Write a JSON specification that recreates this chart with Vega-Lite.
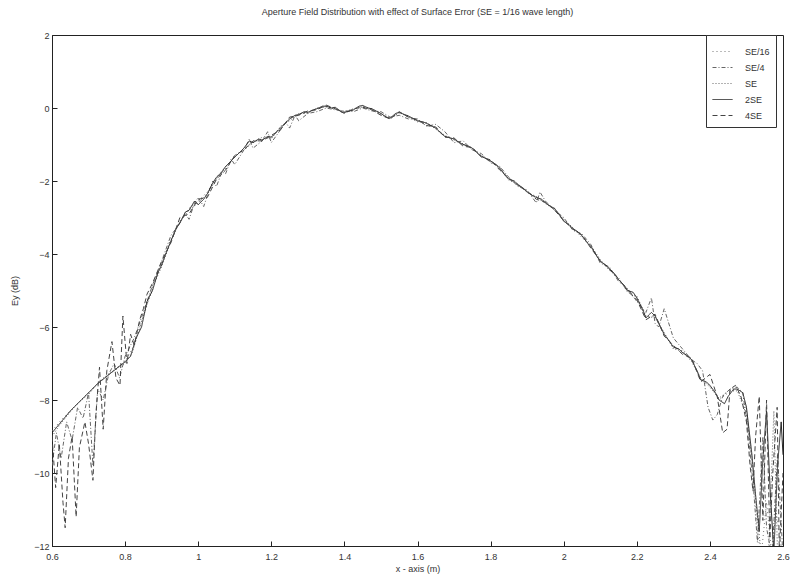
{
"$schema":"https://vega.github.io/schema/vega-lite/v6.json",
"width":731,"height":511,
"autosize":{"type":"none"},
"padding":{"left":52,"top":35,"right":7,"bottom":34},
"background":"white",
"title":{"text":"Aperture Field Distribution with effect of Surface Error (SE = 1/16 wave length)","fontSize":9,"font":"Liberation Sans","fontWeight":"normal","color":"#333","offset":14},
"data":{"values":[
{"s":"SE/16","x":0.6,"y":-8.85},{"s":"SE/16","x":0.625,"y":-8.55},{"s":"SE/16","x":0.65,"y":-8.3},{"s":"SE/16","x":0.675,"y":-8.05},{"s":"SE/16","x":0.7,"y":-7.8},{"s":"SE/16","x":0.725,"y":-7.55},{"s":"SE/16","x":0.75,"y":-7.35},{"s":"SE/16","x":0.775,"y":-7.15},{"s":"SE/16","x":0.8,"y":-6.95},{"s":"SE/16","x":0.825,"y":-6.5},{"s":"SE/16","x":0.85,"y":-5.7},{"s":"SE/16","x":0.875,"y":-4.9},{"s":"SE/16","x":0.9,"y":-4.3},{"s":"SE/16","x":0.925,"y":-3.6},{"s":"SE/16","x":0.95,"y":-3.1},{"s":"SE/16","x":0.975,"y":-2.75},{"s":"SE/16","x":1.0,"y":-2.55},{"s":"SE/16","x":1.025,"y":-2.3},{"s":"SE/16","x":1.05,"y":-1.9},{"s":"SE/16","x":1.075,"y":-1.6},{"s":"SE/16","x":1.1,"y":-1.35},{"s":"SE/16","x":1.125,"y":-1.1},{"s":"SE/16","x":1.15,"y":-0.93},{"s":"SE/16","x":1.175,"y":-0.85},{"s":"SE/16","x":1.2,"y":-0.8},{"s":"SE/16","x":1.225,"y":-0.55},{"s":"SE/16","x":1.25,"y":-0.3},{"s":"SE/16","x":1.275,"y":-0.18},{"s":"SE/16","x":1.3,"y":-0.12},{"s":"SE/16","x":1.325,"y":-0.02},{"s":"SE/16","x":1.35,"y":0.05},{"s":"SE/16","x":1.375,"y":0.0},{"s":"SE/16","x":1.4,"y":-0.12},{"s":"SE/16","x":1.425,"y":-0.05},{"s":"SE/16","x":1.45,"y":0.05},{"s":"SE/16","x":1.475,"y":-0.02},{"s":"SE/16","x":1.5,"y":-0.15},{"s":"SE/16","x":1.525,"y":-0.28},{"s":"SE/16","x":1.55,"y":-0.14},{"s":"SE/16","x":1.575,"y":-0.22},{"s":"SE/16","x":1.6,"y":-0.35},{"s":"SE/16","x":1.625,"y":-0.42},{"s":"SE/16","x":1.65,"y":-0.55},{"s":"SE/16","x":1.675,"y":-0.78},{"s":"SE/16","x":1.7,"y":-0.85},{"s":"SE/16","x":1.725,"y":-1.0},{"s":"SE/16","x":1.75,"y":-1.1},{"s":"SE/16","x":1.775,"y":-1.32},{"s":"SE/16","x":1.8,"y":-1.45},{"s":"SE/16","x":1.825,"y":-1.65},{"s":"SE/16","x":1.85,"y":-1.95},{"s":"SE/16","x":1.875,"y":-2.1},{"s":"SE/16","x":1.9,"y":-2.3},{"s":"SE/16","x":1.925,"y":-2.45},{"s":"SE/16","x":1.95,"y":-2.6},{"s":"SE/16","x":1.975,"y":-2.75},{"s":"SE/16","x":2.0,"y":-3.1},{"s":"SE/16","x":2.025,"y":-3.3},{"s":"SE/16","x":2.05,"y":-3.5},{"s":"SE/16","x":2.075,"y":-3.8},{"s":"SE/16","x":2.1,"y":-4.2},{"s":"SE/16","x":2.125,"y":-4.4},{"s":"SE/16","x":2.15,"y":-4.7},{"s":"SE/16","x":2.175,"y":-5.0},{"s":"SE/16","x":2.2,"y":-5.2},{"s":"SE/16","x":2.225,"y":-5.75},{"s":"SE/16","x":2.25,"y":-5.7},{"s":"SE/16","x":2.275,"y":-6.2},{"s":"SE/16","x":2.3,"y":-6.55},{"s":"SE/16","x":2.325,"y":-6.7},{"s":"SE/16","x":2.35,"y":-6.9},{"s":"SE/16","x":2.375,"y":-7.45},{"s":"SE/16","x":2.4,"y":-7.6},{"s":"SE/16","x":2.425,"y":-8.0},{"s":"SE/16","x":2.45,"y":-7.8},{"s":"SE/16","x":2.475,"y":-7.7},{"s":"SE/16","x":2.5,"y":-8.3},{"s":"SE/16","x":2.52,"y":-10.2},{"s":"SE/16","x":2.53,"y":-11.6},{"s":"SE/16","x":2.54,"y":-12.3},{"s":"SE/16","x":2.555,"y":-10.8},{"s":"SE/16","x":2.57,"y":-12.3},{"s":"SE/16","x":2.58,"y":-11.0},{"s":"SE/16","x":2.6,"y":-12.3},

{"s":"SE/4","x":0.6,"y":-9.8},{"s":"SE/4","x":0.612,"y":-8.9},{"s":"SE/4","x":0.625,"y":-9.6},{"s":"SE/4","x":0.64,"y":-8.6},{"s":"SE/4","x":0.655,"y":-9.1},{"s":"SE/4","x":0.67,"y":-8.2},{"s":"SE/4","x":0.685,"y":-8.5},{"s":"SE/4","x":0.7,"y":-7.8},{"s":"SE/4","x":0.712,"y":-9.8},{"s":"SE/4","x":0.725,"y":-7.7},{"s":"SE/4","x":0.74,"y":-8.0},{"s":"SE/4","x":0.755,"y":-7.3},{"s":"SE/4","x":0.77,"y":-7.0},{"s":"SE/4","x":0.785,"y":-7.4},{"s":"SE/4","x":0.8,"y":-6.8},{"s":"SE/4","x":0.825,"y":-6.3},{"s":"SE/4","x":0.85,"y":-5.6},{"s":"SE/4","x":0.875,"y":-4.85},{"s":"SE/4","x":0.9,"y":-4.2},{"s":"SE/4","x":0.925,"y":-3.5},{"s":"SE/4","x":0.95,"y":-3.15},{"s":"SE/4","x":0.965,"y":-2.9},{"s":"SE/4","x":0.975,"y":-3.05},{"s":"SE/4","x":0.99,"y":-2.6},{"s":"SE/4","x":1.0,"y":-2.45},{"s":"SE/4","x":1.015,"y":-2.7},{"s":"SE/4","x":1.025,"y":-2.4},{"s":"SE/4","x":1.04,"y":-2.0},{"s":"SE/4","x":1.05,"y":-2.15},{"s":"SE/4","x":1.065,"y":-1.75},{"s":"SE/4","x":1.075,"y":-1.8},{"s":"SE/4","x":1.09,"y":-1.4},{"s":"SE/4","x":1.1,"y":-1.55},{"s":"SE/4","x":1.125,"y":-1.15},{"s":"SE/4","x":1.14,"y":-0.85},{"s":"SE/4","x":1.15,"y":-1.1},{"s":"SE/4","x":1.175,"y":-0.9},{"s":"SE/4","x":1.19,"y":-0.65},{"s":"SE/4","x":1.2,"y":-0.95},{"s":"SE/4","x":1.225,"y":-0.6},{"s":"SE/4","x":1.24,"y":-0.4},{"s":"SE/4","x":1.25,"y":-0.55},{"s":"SE/4","x":1.265,"y":-0.2},{"s":"SE/4","x":1.275,"y":-0.35},{"s":"SE/4","x":1.3,"y":-0.15},{"s":"SE/4","x":1.325,"y":-0.1},{"s":"SE/4","x":1.35,"y":0.0},{"s":"SE/4","x":1.375,"y":-0.05},{"s":"SE/4","x":1.4,"y":-0.08},{"s":"SE/4","x":1.425,"y":-0.1},{"s":"SE/4","x":1.45,"y":0.0},{"s":"SE/4","x":1.475,"y":-0.08},{"s":"SE/4","x":1.5,"y":-0.1},{"s":"SE/4","x":1.525,"y":-0.25},{"s":"SE/4","x":1.55,"y":-0.2},{"s":"SE/4","x":1.575,"y":-0.3},{"s":"SE/4","x":1.6,"y":-0.3},{"s":"SE/4","x":1.625,"y":-0.5},{"s":"SE/4","x":1.65,"y":-0.45},{"s":"SE/4","x":1.675,"y":-0.65},{"s":"SE/4","x":1.7,"y":-0.95},{"s":"SE/4","x":1.725,"y":-0.9},{"s":"SE/4","x":1.75,"y":-1.15},{"s":"SE/4","x":1.775,"y":-1.25},{"s":"SE/4","x":1.8,"y":-1.5},{"s":"SE/4","x":1.825,"y":-1.6},{"s":"SE/4","x":1.85,"y":-1.9},{"s":"SE/4","x":1.875,"y":-2.15},{"s":"SE/4","x":1.9,"y":-2.25},{"s":"SE/4","x":1.925,"y":-2.6},{"s":"SE/4","x":1.935,"y":-2.3},{"s":"SE/4","x":1.95,"y":-2.55},{"s":"SE/4","x":1.975,"y":-2.8},{"s":"SE/4","x":2.0,"y":-3.0},{"s":"SE/4","x":2.025,"y":-3.35},{"s":"SE/4","x":2.05,"y":-3.45},{"s":"SE/4","x":2.075,"y":-3.75},{"s":"SE/4","x":2.1,"y":-4.25},{"s":"SE/4","x":2.125,"y":-4.35},{"s":"SE/4","x":2.15,"y":-4.75},{"s":"SE/4","x":2.175,"y":-4.95},{"s":"SE/4","x":2.2,"y":-5.3},{"s":"SE/4","x":2.225,"y":-5.6},{"s":"SE/4","x":2.24,"y":-5.2},{"s":"SE/4","x":2.25,"y":-5.9},{"s":"SE/4","x":2.26,"y":-6.0},{"s":"SE/4","x":2.275,"y":-5.5},{"s":"SE/4","x":2.3,"y":-6.3},{"s":"SE/4","x":2.325,"y":-6.6},{"s":"SE/4","x":2.35,"y":-6.9},{"s":"SE/4","x":2.365,"y":-7.0},{"s":"SE/4","x":2.38,"y":-7.2},{"s":"SE/4","x":2.395,"y":-8.2},{"s":"SE/4","x":2.408,"y":-8.55},{"s":"SE/4","x":2.42,"y":-8.4},{"s":"SE/4","x":2.435,"y":-7.9},{"s":"SE/4","x":2.455,"y":-7.7},{"s":"SE/4","x":2.475,"y":-7.65},{"s":"SE/4","x":2.49,"y":-7.8},{"s":"SE/4","x":2.505,"y":-8.9},{"s":"SE/4","x":2.52,"y":-10.5},{"s":"SE/4","x":2.53,"y":-11.9},{"s":"SE/4","x":2.545,"y":-9.0},{"s":"SE/4","x":2.555,"y":-11.5},{"s":"SE/4","x":2.57,"y":-12.3},{"s":"SE/4","x":2.585,"y":-9.5},{"s":"SE/4","x":2.6,"y":-12.3},

{"s":"SE","x":0.6,"y":-9.0},{"s":"SE","x":0.62,"y":-8.7},{"s":"SE","x":0.64,"y":-8.45},{"s":"SE","x":0.66,"y":-8.2},{"s":"SE","x":0.68,"y":-8.0},{"s":"SE","x":0.7,"y":-7.85},{"s":"SE","x":0.72,"y":-7.6},{"s":"SE","x":0.74,"y":-7.4},{"s":"SE","x":0.76,"y":-7.25},{"s":"SE","x":0.78,"y":-7.1},{"s":"SE","x":0.8,"y":-7.0},{"s":"SE","x":0.82,"y":-6.7},{"s":"SE","x":0.84,"y":-6.0},{"s":"SE","x":0.86,"y":-5.4},{"s":"SE","x":0.88,"y":-4.8},{"s":"SE","x":0.9,"y":-4.35},{"s":"SE","x":0.925,"y":-3.65},{"s":"SE","x":0.95,"y":-3.1},{"s":"SE","x":0.975,"y":-2.8},{"s":"SE","x":1.0,"y":-2.6},{"s":"SE","x":1.025,"y":-2.35},{"s":"SE","x":1.05,"y":-1.95},{"s":"SE","x":1.075,"y":-1.65},{"s":"SE","x":1.1,"y":-1.3},{"s":"SE","x":1.125,"y":-1.15},{"s":"SE","x":1.15,"y":-0.95},{"s":"SE","x":1.175,"y":-0.8},{"s":"SE","x":1.2,"y":-0.85},{"s":"SE","x":1.225,"y":-0.5},{"s":"SE","x":1.25,"y":-0.35},{"s":"SE","x":1.275,"y":-0.15},{"s":"SE","x":1.3,"y":-0.15},{"s":"SE","x":1.325,"y":0.0},{"s":"SE","x":1.35,"y":0.03},{"s":"SE","x":1.375,"y":-0.03},{"s":"SE","x":1.4,"y":-0.1},{"s":"SE","x":1.425,"y":-0.02},{"s":"SE","x":1.45,"y":0.03},{"s":"SE","x":1.475,"y":-0.05},{"s":"SE","x":1.5,"y":-0.18},{"s":"SE","x":1.525,"y":-0.3},{"s":"SE","x":1.55,"y":-0.12},{"s":"SE","x":1.575,"y":-0.25},{"s":"SE","x":1.6,"y":-0.38},{"s":"SE","x":1.625,"y":-0.4},{"s":"SE","x":1.65,"y":-0.58},{"s":"SE","x":1.675,"y":-0.75},{"s":"SE","x":1.7,"y":-0.88},{"s":"SE","x":1.725,"y":-0.98},{"s":"SE","x":1.75,"y":-1.12},{"s":"SE","x":1.775,"y":-1.3},{"s":"SE","x":1.8,"y":-1.48},{"s":"SE","x":1.825,"y":-1.62},{"s":"SE","x":1.85,"y":-1.98},{"s":"SE","x":1.875,"y":-2.08},{"s":"SE","x":1.9,"y":-2.32},{"s":"SE","x":1.925,"y":-2.42},{"s":"SE","x":1.95,"y":-2.62},{"s":"SE","x":1.975,"y":-2.78},{"s":"SE","x":2.0,"y":-3.05},{"s":"SE","x":2.025,"y":-3.28},{"s":"SE","x":2.05,"y":-3.55},{"s":"SE","x":2.075,"y":-3.78},{"s":"SE","x":2.1,"y":-4.15},{"s":"SE","x":2.125,"y":-4.45},{"s":"SE","x":2.15,"y":-4.65},{"s":"SE","x":2.175,"y":-5.05},{"s":"SE","x":2.2,"y":-5.15},{"s":"SE","x":2.225,"y":-5.7},{"s":"SE","x":2.25,"y":-5.75},{"s":"SE","x":2.275,"y":-6.15},{"s":"SE","x":2.3,"y":-6.6},{"s":"SE","x":2.325,"y":-6.65},{"s":"SE","x":2.35,"y":-6.95},{"s":"SE","x":2.375,"y":-7.4},{"s":"SE","x":2.4,"y":-7.65},{"s":"SE","x":2.425,"y":-7.95},{"s":"SE","x":2.45,"y":-7.75},{"s":"SE","x":2.475,"y":-7.75},{"s":"SE","x":2.5,"y":-8.4},{"s":"SE","x":2.515,"y":-9.6},{"s":"SE","x":2.528,"y":-11.0},{"s":"SE","x":2.54,"y":-12.2},{"s":"SE","x":2.56,"y":-12.3},{"s":"SE","x":2.575,"y":-8.3},{"s":"SE","x":2.585,"y":-12.2},{"s":"SE","x":2.6,"y":-12.2},

{"s":"2SE","x":0.6,"y":-8.9},{"s":"2SE","x":0.625,"y":-8.6},{"s":"2SE","x":0.65,"y":-8.3},{"s":"2SE","x":0.675,"y":-8.05},{"s":"2SE","x":0.7,"y":-7.8},{"s":"2SE","x":0.725,"y":-7.55},{"s":"2SE","x":0.75,"y":-7.35},{"s":"2SE","x":0.775,"y":-7.15},{"s":"2SE","x":0.8,"y":-6.95},{"s":"2SE","x":0.815,"y":-6.8},{"s":"2SE","x":0.83,"y":-6.3},{"s":"2SE","x":0.845,"y":-6.0},{"s":"2SE","x":0.86,"y":-5.3},{"s":"2SE","x":0.875,"y":-5.0},{"s":"2SE","x":0.89,"y":-4.5},{"s":"2SE","x":0.9,"y":-4.3},{"s":"2SE","x":0.915,"y":-3.9},{"s":"2SE","x":0.925,"y":-3.65},{"s":"2SE","x":0.94,"y":-3.3},{"s":"2SE","x":0.95,"y":-3.15},{"s":"2SE","x":0.965,"y":-2.85},{"s":"2SE","x":0.975,"y":-2.8},{"s":"2SE","x":0.99,"y":-2.55},{"s":"2SE","x":1.0,"y":-2.65},{"s":"2SE","x":1.015,"y":-2.5},{"s":"2SE","x":1.025,"y":-2.35},{"s":"2SE","x":1.04,"y":-2.05},{"s":"2SE","x":1.05,"y":-1.9},{"s":"2SE","x":1.065,"y":-1.75},{"s":"2SE","x":1.075,"y":-1.6},{"s":"2SE","x":1.09,"y":-1.45},{"s":"2SE","x":1.1,"y":-1.35},{"s":"2SE","x":1.115,"y":-1.2},{"s":"2SE","x":1.125,"y":-1.1},{"s":"2SE","x":1.14,"y":-0.9},{"s":"2SE","x":1.15,"y":-0.95},{"s":"2SE","x":1.165,"y":-0.85},{"s":"2SE","x":1.175,"y":-0.88},{"s":"2SE","x":1.19,"y":-0.78},{"s":"2SE","x":1.2,"y":-0.8},{"s":"2SE","x":1.215,"y":-0.65},{"s":"2SE","x":1.225,"y":-0.55},{"s":"2SE","x":1.24,"y":-0.4},{"s":"2SE","x":1.25,"y":-0.3},{"s":"2SE","x":1.265,"y":-0.2},{"s":"2SE","x":1.275,"y":-0.18},{"s":"2SE","x":1.29,"y":-0.1},{"s":"2SE","x":1.3,"y":-0.12},{"s":"2SE","x":1.315,"y":-0.05},{"s":"2SE","x":1.325,"y":-0.02},{"s":"2SE","x":1.34,"y":0.05},{"s":"2SE","x":1.35,"y":0.05},{"s":"2SE","x":1.365,"y":0.0},{"s":"2SE","x":1.375,"y":0.02},{"s":"2SE","x":1.39,"y":-0.1},{"s":"2SE","x":1.4,"y":-0.12},{"s":"2SE","x":1.415,"y":-0.08},{"s":"2SE","x":1.425,"y":-0.05},{"s":"2SE","x":1.44,"y":0.05},{"s":"2SE","x":1.45,"y":0.07},{"s":"2SE","x":1.465,"y":0.0},{"s":"2SE","x":1.475,"y":-0.02},{"s":"2SE","x":1.49,"y":-0.1},{"s":"2SE","x":1.5,"y":-0.15},{"s":"2SE","x":1.515,"y":-0.25},{"s":"2SE","x":1.525,"y":-0.28},{"s":"2SE","x":1.54,"y":-0.15},{"s":"2SE","x":1.55,"y":-0.12},{"s":"2SE","x":1.565,"y":-0.18},{"s":"2SE","x":1.575,"y":-0.22},{"s":"2SE","x":1.59,"y":-0.3},{"s":"2SE","x":1.6,"y":-0.35},{"s":"2SE","x":1.615,"y":-0.38},{"s":"2SE","x":1.625,"y":-0.42},{"s":"2SE","x":1.64,"y":-0.5},{"s":"2SE","x":1.65,"y":-0.55},{"s":"2SE","x":1.665,"y":-0.7},{"s":"2SE","x":1.675,"y":-0.78},{"s":"2SE","x":1.69,"y":-0.82},{"s":"2SE","x":1.7,"y":-0.85},{"s":"2SE","x":1.715,"y":-0.95},{"s":"2SE","x":1.725,"y":-1.0},{"s":"2SE","x":1.74,"y":-1.05},{"s":"2SE","x":1.75,"y":-1.1},{"s":"2SE","x":1.765,"y":-1.25},{"s":"2SE","x":1.775,"y":-1.32},{"s":"2SE","x":1.79,"y":-1.4},{"s":"2SE","x":1.8,"y":-1.45},{"s":"2SE","x":1.815,"y":-1.55},{"s":"2SE","x":1.825,"y":-1.65},{"s":"2SE","x":1.84,"y":-1.85},{"s":"2SE","x":1.85,"y":-1.95},{"s":"2SE","x":1.865,"y":-2.0},{"s":"2SE","x":1.875,"y":-2.1},{"s":"2SE","x":1.89,"y":-2.2},{"s":"2SE","x":1.9,"y":-2.3},{"s":"2SE","x":1.915,"y":-2.4},{"s":"2SE","x":1.925,"y":-2.45},{"s":"2SE","x":1.94,"y":-2.5},{"s":"2SE","x":1.95,"y":-2.6},{"s":"2SE","x":1.965,"y":-2.7},{"s":"2SE","x":1.975,"y":-2.75},{"s":"2SE","x":1.99,"y":-2.95},{"s":"2SE","x":2.0,"y":-3.1},{"s":"2SE","x":2.015,"y":-3.2},{"s":"2SE","x":2.025,"y":-3.3},{"s":"2SE","x":2.04,"y":-3.4},{"s":"2SE","x":2.05,"y":-3.5},{"s":"2SE","x":2.065,"y":-3.7},{"s":"2SE","x":2.075,"y":-3.8},{"s":"2SE","x":2.09,"y":-4.05},{"s":"2SE","x":2.1,"y":-4.2},{"s":"2SE","x":2.115,"y":-4.3},{"s":"2SE","x":2.125,"y":-4.4},{"s":"2SE","x":2.14,"y":-4.55},{"s":"2SE","x":2.15,"y":-4.7},{"s":"2SE","x":2.165,"y":-4.85},{"s":"2SE","x":2.175,"y":-5.0},{"s":"2SE","x":2.19,"y":-5.05},{"s":"2SE","x":2.2,"y":-5.2},{"s":"2SE","x":2.215,"y":-5.5},{"s":"2SE","x":2.225,"y":-5.75},{"s":"2SE","x":2.24,"y":-5.6},{"s":"2SE","x":2.25,"y":-5.7},{"s":"2SE","x":2.265,"y":-6.0},{"s":"2SE","x":2.275,"y":-6.2},{"s":"2SE","x":2.29,"y":-6.4},{"s":"2SE","x":2.3,"y":-6.55},{"s":"2SE","x":2.315,"y":-6.6},{"s":"2SE","x":2.325,"y":-6.7},{"s":"2SE","x":2.34,"y":-6.8},{"s":"2SE","x":2.35,"y":-6.9},{"s":"2SE","x":2.365,"y":-7.2},{"s":"2SE","x":2.375,"y":-7.45},{"s":"2SE","x":2.39,"y":-7.5},{"s":"2SE","x":2.4,"y":-7.6},{"s":"2SE","x":2.415,"y":-7.8},{"s":"2SE","x":2.425,"y":-8.0},{"s":"2SE","x":2.44,"y":-8.1},{"s":"2SE","x":2.45,"y":-7.9},{"s":"2SE","x":2.465,"y":-7.7},{"s":"2SE","x":2.475,"y":-7.7},{"s":"2SE","x":2.49,"y":-7.8},{"s":"2SE","x":2.5,"y":-8.2},{"s":"2SE","x":2.515,"y":-9.5},{"s":"2SE","x":2.525,"y":-10.6},{"s":"2SE","x":2.535,"y":-11.6},{"s":"2SE","x":2.545,"y":-9.6},{"s":"2SE","x":2.555,"y":-8.3},{"s":"2SE","x":2.565,"y":-10.5},{"s":"2SE","x":2.575,"y":-12.2},{"s":"2SE","x":2.585,"y":-9.8},{"s":"2SE","x":2.595,"y":-8.6},{"s":"2SE","x":2.6,"y":-9.5},

{"s":"4SE","x":0.6,"y":-9.0},{"s":"4SE","x":0.61,"y":-10.4},{"s":"4SE","x":0.62,"y":-9.2},{"s":"4SE","x":0.63,"y":-10.8},{"s":"4SE","x":0.636,"y":-11.5},{"s":"4SE","x":0.645,"y":-9.6},{"s":"4SE","x":0.655,"y":-9.0},{"s":"4SE","x":0.666,"y":-11.2},{"s":"4SE","x":0.675,"y":-9.3},{"s":"4SE","x":0.69,"y":-8.6},{"s":"4SE","x":0.7,"y":-9.2},{"s":"4SE","x":0.712,"y":-10.2},{"s":"4SE","x":0.72,"y":-8.4},{"s":"4SE","x":0.73,"y":-7.1},{"s":"4SE","x":0.74,"y":-8.8},{"s":"4SE","x":0.75,"y":-7.2},{"s":"4SE","x":0.764,"y":-6.4},{"s":"4SE","x":0.775,"y":-7.4},{"s":"4SE","x":0.786,"y":-7.6},{"s":"4SE","x":0.794,"y":-5.7},{"s":"4SE","x":0.805,"y":-7.0},{"s":"4SE","x":0.815,"y":-6.2},{"s":"4SE","x":0.825,"y":-6.5},{"s":"4SE","x":0.84,"y":-5.8},{"s":"4SE","x":0.85,"y":-5.5},{"s":"4SE","x":0.86,"y":-5.1},{"s":"4SE","x":0.875,"y":-4.8},{"s":"4SE","x":0.9,"y":-4.2},{"s":"4SE","x":0.925,"y":-3.7},{"s":"4SE","x":0.95,"y":-3.0},{"s":"4SE","x":0.975,"y":-2.9},{"s":"4SE","x":1.0,"y":-2.5},{"s":"4SE","x":1.025,"y":-2.45},{"s":"4SE","x":1.05,"y":-1.95},{"s":"4SE","x":1.075,"y":-1.7},{"s":"4SE","x":1.1,"y":-1.3},{"s":"4SE","x":1.125,"y":-1.15},{"s":"4SE","x":1.15,"y":-0.9},{"s":"4SE","x":1.175,"y":-0.9},{"s":"4SE","x":1.2,"y":-0.75},{"s":"4SE","x":1.225,"y":-0.6},{"s":"4SE","x":1.25,"y":-0.25},{"s":"4SE","x":1.275,"y":-0.2},{"s":"4SE","x":1.3,"y":-0.08},{"s":"4SE","x":1.325,"y":-0.05},{"s":"4SE","x":1.35,"y":0.08},{"s":"4SE","x":1.375,"y":-0.02},{"s":"4SE","x":1.4,"y":-0.15},{"s":"4SE","x":1.425,"y":-0.02},{"s":"4SE","x":1.45,"y":0.02},{"s":"4SE","x":1.475,"y":-0.05},{"s":"4SE","x":1.5,"y":-0.2},{"s":"4SE","x":1.525,"y":-0.3},{"s":"4SE","x":1.55,"y":-0.1},{"s":"4SE","x":1.575,"y":-0.25},{"s":"4SE","x":1.6,"y":-0.32},{"s":"4SE","x":1.625,"y":-0.48},{"s":"4SE","x":1.65,"y":-0.52},{"s":"4SE","x":1.675,"y":-0.8},{"s":"4SE","x":1.7,"y":-0.82},{"s":"4SE","x":1.725,"y":-1.05},{"s":"4SE","x":1.75,"y":-1.08},{"s":"4SE","x":1.775,"y":-1.35},{"s":"4SE","x":1.8,"y":-1.42},{"s":"4SE","x":1.825,"y":-1.7},{"s":"4SE","x":1.85,"y":-1.92},{"s":"4SE","x":1.875,"y":-2.12},{"s":"4SE","x":1.9,"y":-2.28},{"s":"4SE","x":1.925,"y":-2.5},{"s":"4SE","x":1.95,"y":-2.58},{"s":"4SE","x":1.975,"y":-2.8},{"s":"4SE","x":2.0,"y":-3.08},{"s":"4SE","x":2.025,"y":-3.32},{"s":"4SE","x":2.05,"y":-3.48},{"s":"4SE","x":2.075,"y":-3.85},{"s":"4SE","x":2.1,"y":-4.18},{"s":"4SE","x":2.125,"y":-4.42},{"s":"4SE","x":2.15,"y":-4.68},{"s":"4SE","x":2.175,"y":-5.02},{"s":"4SE","x":2.2,"y":-5.25},{"s":"4SE","x":2.225,"y":-5.8},{"s":"4SE","x":2.25,"y":-5.65},{"s":"4SE","x":2.275,"y":-6.25},{"s":"4SE","x":2.3,"y":-6.5},{"s":"4SE","x":2.325,"y":-6.75},{"s":"4SE","x":2.35,"y":-6.85},{"s":"4SE","x":2.375,"y":-7.5},{"s":"4SE","x":2.4,"y":-7.3},{"s":"4SE","x":2.42,"y":-7.9},{"s":"4SE","x":2.435,"y":-8.9},{"s":"4SE","x":2.447,"y":-8.8},{"s":"4SE","x":2.455,"y":-7.7},{"s":"4SE","x":2.47,"y":-7.6},{"s":"4SE","x":2.485,"y":-7.9},{"s":"4SE","x":2.5,"y":-8.6},{"s":"4SE","x":2.51,"y":-9.8},{"s":"4SE","x":2.518,"y":-10.5},{"s":"4SE","x":2.525,"y":-9.0},{"s":"4SE","x":2.535,"y":-7.9},{"s":"4SE","x":2.545,"y":-11.3},{"s":"4SE","x":2.555,"y":-8.0},{"s":"4SE","x":2.564,"y":-11.8},{"s":"4SE","x":2.572,"y":-10.0},{"s":"4SE","x":2.584,"y":-8.2},{"s":"4SE","x":2.59,"y":-12.2},{"s":"4SE","x":2.6,"y":-10.0}
]},
"mark":{"type":"line","clip":true,"strokeWidth":1},
"encoding":{
"x":{"field":"x","type":"quantitative","scale":{"domain":[0.6,2.6],"nice":false,"zero":false},
 "axis":{"title":"x - axis (m)","values":[0.6,0.8,1,1.2,1.4,1.6,1.8,2,2.2,2.4,2.6],"format":"~g","titlePadding":3,"labelPadding":11}},
"y":{"field":"y","type":"quantitative","scale":{"domain":[-12,2],"nice":false,"zero":false},
 "axis":{"title":"Ey (dB)","values":[-12,-10,-8,-6,-4,-2,0,2],"titlePadding":14,"labelPadding":8}},
"color":{"field":"s","type":"nominal","scale":{"domain":["SE/16","SE/4","SE","2SE","4SE"],"range":["#777","#666","#666","#222","#444"]},
 "legend":{"title":null,"orient":"none","legendX":654,"legendY":0,"fillColor":"white","strokeColor":"#333","padding":6,"labelFontSize":9,"labelFont":"Liberation Sans","labelColor":"#333","labelOffset":12,"symbolType":"stroke","symbolSize":400,"symbolStrokeWidth":1,"rowPadding":-6}},
"strokeDash":{"field":"s","type":"nominal","scale":{"domain":["SE/16","SE/4","SE","2SE","4SE"],"range":[[1,3],[4,2,1,2],[1,2],[1,0],[5,3]]},
 "legend":{"title":null,"orient":"none","legendX":654,"legendY":0}}
},
"config":{
"view":{"stroke":"#222","strokeWidth":1},
"axis":{"grid":false,"labelFlush":false,"labelOverlap":false,"domainColor":"#222","tickColor":"#222","labelColor":"#333","titleColor":"#333","labelFont":"Liberation Sans","titleFont":"Liberation Sans","labelFontSize":9,"titleFontSize":9,"titleFontWeight":"normal","tickSize":-5,"labelPadding":9}
}
}
